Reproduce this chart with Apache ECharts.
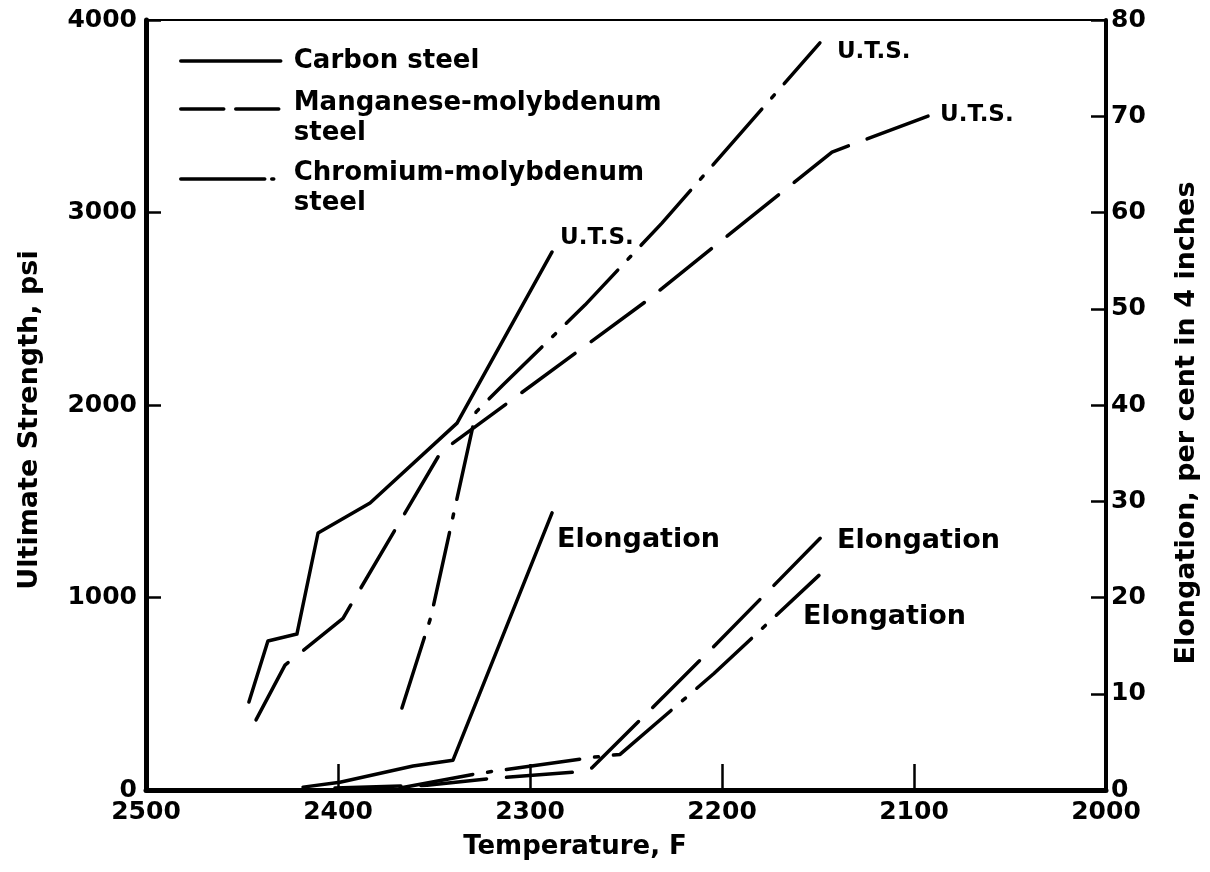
<!DOCTYPE html>
<html><head><meta charset="utf-8">
<script src="https://cdn.jsdelivr.net/npm/echarts@6/dist/echarts.min.js"></script>
<style>html,body{margin:0;padding:0;background:#fff}#c{width:1210px;height:872px}</style>
</head><body><div id="c"></div>
<script>
// ---- data ----
const seriesNames = ['Carbon steel', 'Manganese-molybdenum\nsteel', 'Chromium-molybdenum\nsteel'];
const carbonUtsT   = [2446.4, 2436.5, 2421.4, 2410.4, 2383.3, 2338.0, 2288.5];
const carbonUtsPsi = [457, 774, 810, 1335, 1491, 1906, 2795];
const mnMoUtsT     = [2442.7, 2427.6, 2397.4, 2346.4, 2240.1, 2142.7, 2092.7];
const mnMoUtsPsi   = [364, 649, 892, 1756, 2535, 3314, 3501];
const crMoUtsT     = [2366.7, 2351.6, 2328.1, 2314.1, 2271.4, 2231.3, 2149.0];
const crMoUtsPsi   = [426, 899, 1964, 2104, 2519, 2945, 3881];
const carbonElT    = [2418.2, 2399.0, 2360.9, 2340.1, 2288.5];
const carbonElPct  = [0.3, 0.8, 2.5, 3.1, 28.8];
const mnMoElT      = [2401.6, 2353.6, 2317.2, 2273.9, 2267.7, 2207.3, 2143.2];
const mnMoElPct    = [0.2, 0.5, 1.25, 1.9, 2.3, 14.3, 27.3];
const crMoElT      = [2367.7, 2327.6, 2267.2, 2253.1, 2204.2, 2149.5];
const crMoElPct    = [0.2, 1.7, 3.4, 3.7, 12.1, 22.3];
const utsLabel = 'U.T.S.';
const elongLabel = 'Elongation';
const xTitle = 'Temperature, F';
const yLeftTitle = 'Ultimate Strength, psi';
const yRightTitle = 'Elongation, per cent in 4 inches';

// ---- chart ----
const F = "'DejaVu Sans', sans-serif";
const dashTypes = ['solid', [66, 20], [74, 15, 4, 15]];
const legendDash = ['solid', [43, 12], [84, 7, 2, 7]];
const legendTops = [48, 90, 160];
const pairs = (t, v) => t.map((x, i) => [x, v[i]]);
const last = (t, v) => [t[t.length - 1], v[v.length - 1]];
const plain = v => String(v);

function line(idx, t, v, yIdx) {
  return {
    type: 'line', name: seriesNames[idx], yAxisIndex: yIdx, data: pairs(t, v),
    symbol: 'none', showSymbol: false, animation: false, z: 3,
    itemStyle: { color: '#000' },
    lineStyle: { color: '#000', width: 3.5, type: dashTypes[idx], cap: 'round', join: 'round' }
  };
}
const txt = { color: '#000', fontFamily: F, fontWeight: 'bold' };
const richTxt = (lh) => Object.assign({}, txt, { fontSize: 26, lineHeight: lh, padding: [0, 0, 0, 8] });

function legendFor(idx) {
  return {
    orient: 'vertical', left: 179, top: legendTops[idx], padding: 0,
    itemWidth: 100, itemHeight: 14, selectedMode: false,
    data: [seriesNames[idx]],
    textStyle: Object.assign({}, txt, { fontSize: 26, rich: { s: richTxt(30), a: richTxt(48), b: richTxt(12) } }),
    formatter: function (name) {
      const parts = name.split('\n');
      if (parts.length === 1) return '{s|' + name + '}';
      return '{a|' + parts[0] + '}\n{b|' + parts[1] + '}';
    },
    itemStyle: { opacity: 0 },
    lineStyle: { width: 3.5, color: '#000', cap: 'round', type: legendDash[idx] }
  };
}

const option = {
  backgroundColor: '#fff',
  animation: false,
  grid: { left: 146, right: 104, top: 20, bottom: 82, show: true, borderColor: '#000', borderWidth: 2, backgroundColor: 'transparent' },
  legend: [legendFor(0), legendFor(1), legendFor(2)],
  xAxis: {
    type: 'value', min: 2000, max: 2500, interval: 100, inverse: true,
    name: xTitle, nameLocation: 'middle', nameGap: 44,
    nameTextStyle: Object.assign({}, txt, { fontSize: 26, padding: [0, 102, 0, 0] }),
    axisLine: { show: true, onZero: false, lineStyle: { color: '#000', width: 5 } },
    axisTick: { show: true, inside: true, length: 26, lineStyle: { color: '#000', width: 2.5 } },
    axisLabel: Object.assign({}, txt, { fontSize: 25, margin: 10, formatter: plain }),
    splitLine: { show: false }
  },
  yAxis: [
    {
      type: 'value', position: 'left', min: 0, max: 4000, interval: 1000,
      name: yLeftTitle, nameLocation: 'middle', nameGap: 103,
      nameTextStyle: Object.assign({}, txt, { fontSize: 27, padding: [0, 30, 0, 0] }),
      axisLine: { show: true, onZero: false, lineStyle: { color: '#000', width: 5 } },
      axisTick: { show: true, inside: true, length: 15, lineStyle: { color: '#000', width: 2.5 } },
      axisLabel: Object.assign({}, txt, { fontSize: 25, margin: 9, formatter: plain }),
      splitLine: { show: false }
    },
    {
      type: 'value', position: 'right', min: 0, max: 80, interval: 10,
      name: yRightTitle, nameLocation: 'middle', nameGap: 67,
      nameTextStyle: Object.assign({}, txt, { fontSize: 27, padding: [0, 36, 0, 0] }),
      axisLine: { show: true, onZero: false, lineStyle: { color: '#000', width: 4 } },
      axisTick: { show: true, inside: true, length: 15, lineStyle: { color: '#000', width: 2.5 } },
      axisLabel: Object.assign({}, txt, { fontSize: 25, margin: 5, formatter: plain }),
      splitLine: { show: false }
    }
  ],
  series: [
    line(0, carbonUtsT, carbonUtsPsi, 0),
    line(1, mnMoUtsT, mnMoUtsPsi, 0),
    line(2, crMoUtsT, crMoUtsPsi, 0),
    line(0, carbonElT, carbonElPct, 1),
    line(1, mnMoElT, mnMoElPct, 1),
    line(2, crMoElT, crMoElPct, 1),
    {
      type: 'scatter', name: 'utsLabels', yAxisIndex: 0, symbol: 'circle', symbolSize: 0, silent: true, z: 4,
      itemStyle: { color: '#000' },
      label: Object.assign({}, txt, { show: true, position: 'right', distance: 0, fontSize: 23, opacity: 1, textBorderWidth: 0, formatter: utsLabel }),
      data: [
        { value: last(carbonUtsT, carbonUtsPsi), label: { offset: [8, -14] } },
        { value: last(crMoUtsT, crMoUtsPsi), label: { offset: [17, 9] } },
        { value: last(mnMoUtsT, mnMoUtsPsi), label: { offset: [12, -1] } }
      ]
    },
    {
      type: 'scatter', name: 'elLabels', yAxisIndex: 1, symbol: 'circle', symbolSize: 0, silent: true, z: 4,
      itemStyle: { color: '#000' },
      label: Object.assign({}, txt, { show: true, position: 'right', distance: 0, fontSize: 27, opacity: 1, textBorderWidth: 0, formatter: elongLabel }),
      data: [
        { value: last(carbonElT, carbonElPct), label: { offset: [5, 27] } },
        { value: last(mnMoElT, mnMoElPct), label: { offset: [6, 14] } },
        { value: last(crMoElT, crMoElPct), label: { offset: [-16, 42] } }
      ]
    }
  ]
};
const chart = echarts.init(document.getElementById('c'), null, { renderer: 'canvas' });
chart.setOption(option);
</script>
</body></html>
